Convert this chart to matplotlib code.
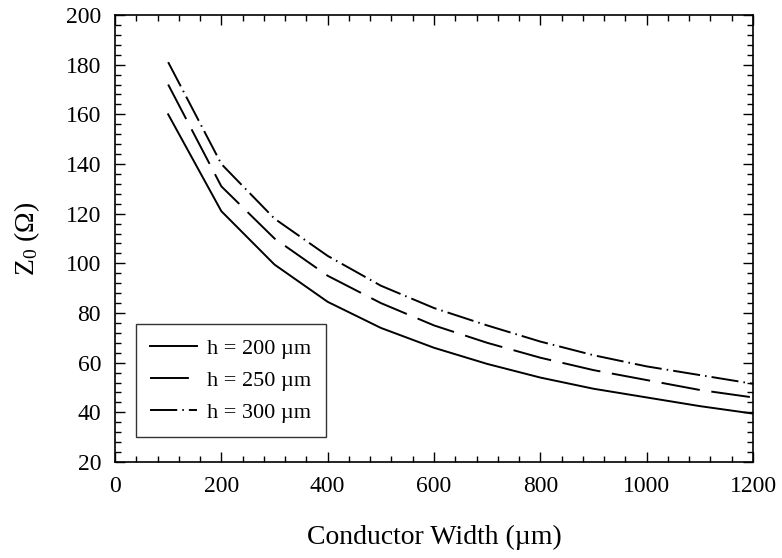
import matplotlib
matplotlib.use('Agg')
import matplotlib.pyplot as plt
from matplotlib.ticker import MultipleLocator

plt.rcParams['font.family'] = ['Liberation Serif', 'DejaVu Serif']
plt.rcParams['mathtext.fontset'] = 'custom'
plt.rcParams['mathtext.rm'] = 'Liberation Serif'
plt.rcParams['mathtext.it'] = 'Liberation Serif:italic'

width = [100, 200, 300, 400, 500, 600, 700, 800, 900, 1000, 1100, 1200]
z_h200 = [160, 121, 99.5, 84.5, 74, 66, 59.5, 54, 49.5, 46, 42.5, 39.5]
z_h250 = [172, 131, 110, 95, 84, 75, 68, 62, 57, 53, 49, 46]
z_h300 = [181, 140, 118, 103, 91, 82, 75, 68.5, 63, 58.5, 55, 51.5]
labels = ['h = 200 µm', 'h = 250 µm', 'h = 300 µm']

fig = plt.figure(figsize=(7.82, 5.58), dpi=100)
ax = fig.add_axes([115 / 782, 1 - 462 / 558, 638 / 782, 447 / 558])

lw = 1.4
ax.plot(width, z_h200, color='black', lw=lw, label=labels[0])
ax.plot(width, z_h250, color='black', lw=lw, dashes=(20, 6), label=labels[1])
ax.plot(width, z_h300, color='black', lw=lw, dashes=(14, 2.6, 0.8, 2.6), label=labels[2])

ax.set_xlim(0, 1200)
ax.set_ylim(20, 200)
ax.xaxis.set_major_locator(MultipleLocator(200))
ax.xaxis.set_minor_locator(MultipleLocator(40))
ax.yaxis.set_major_locator(MultipleLocator(20))
ax.yaxis.set_minor_locator(MultipleLocator(4))
ax.tick_params(which='both', direction='in', top=True, right=True, labelsize=17, width=1)
ax.tick_params(which='major', length=7, pad=10)
ax.tick_params(which='minor', length=4)
for s in ax.spines.values():
    s.set_linewidth(1.2)

ax.set_xlabel('Conductor Width (µm)', fontsize=20, labelpad=20)
ax.set_ylabel('Z$_0$ (Ω)', fontsize=20, labelpad=17)

leg = ax.legend(loc='lower left', bbox_to_anchor=(0.033, 0.056), fontsize=16,
                frameon=True, fancybox=False, edgecolor='black',
                handlelength=2.1, handletextpad=0.45, borderpad=0.65,
                borderaxespad=0, labelspacing=0.5)
leg.get_frame().set_linewidth(1.0)

fig.savefig('out.png', dpi=100)
